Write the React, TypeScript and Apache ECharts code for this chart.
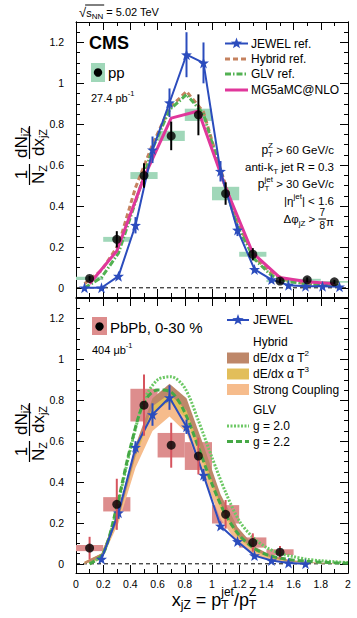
import React, { useEffect, useRef } from 'react';
import * as echarts from 'echarts';

const FONT = '"Liberation Sans", Arial, Helvetica, sans-serif';

// ---------------- axes ----------------
const yTickLabels = [0, 0.2, 0.4, 0.6, 0.8, 1, 1.2];
const yMinorTicks = [0.05, 0.1, 0.15, 0.25, 0.3, 0.35, 0.45, 0.5, 0.55, 0.65, 0.7, 0.75, 0.85, 0.9, 0.95, 1.05, 1.1, 1.15, 1.25];
const Y_MIN = -0.045;
const Y_MAX = 1.3;

// ---------------- top panel: pp ----------------
const ppX = [0.1, 0.3, 0.5, 0.7, 0.9, 1.1, 1.3, 1.5, 1.7, 1.9];
const ppY = [0.046, 0.237, 0.549, 0.743, 0.846, 0.461, 0.164, 0.033, 0.039, 0.029];
const ppStat = [0.012, 0.04, 0.06, 0.07, 0.1, 0.055, 0.03, 0.012, 0.012, 0.01];
const ppSys = [0.008, 0.012, 0.017, 0.025, 0.03, 0.033, 0.012, 0.005, 0.005, 0.004];

const jewelX = [0.0625, 0.1875, 0.3125, 0.4375, 0.5625, 0.6875, 0.8125, 0.9375, 1.0625, 1.1875, 1.3125, 1.4375, 1.5625, 1.6875, 1.8125, 1.9375];
const jewelPP = [0.0, 0.0, 0.057, 0.306, 0.675, 0.905, 1.14, 1.1, 0.57, 0.283, 0.09, 0.04, 0.013, 0.008, 0.008, 0.005];
const jewelPPErr = [0, 0, 0.01, 0.04, 0.065, 0.07, 0.11, 0.1, 0.05, 0.03, 0.01, 0.005, 0, 0, 0, 0];

const hybridRefX = [0.0625, 0.1875, 0.3125, 0.4375, 0.5625, 0.6875, 0.8125, 0.9375, 1.0625, 1.1875, 1.3125, 1.4375, 1.5625, 1.6875, 1.8125, 1.9375];
const hybridRefY = [0.02, 0.085, 0.21, 0.49, 0.7, 0.88, 0.96, 0.86, 0.58, 0.32, 0.15, 0.07, 0.035, 0.02, 0.015, 0.01];
const glvRefY = [0.0, 0.05, 0.17, 0.42, 0.68, 0.87, 0.945, 0.85, 0.57, 0.3, 0.14, 0.06, 0.03, 0.02, 0.015, 0.01];

const mgX = [0.1, 0.3, 0.5, 0.7, 0.9, 1.1, 1.3, 1.5, 1.7, 1.9];
const mgY = [0.02, 0.18, 0.54, 0.83, 0.865, 0.49, 0.17, 0.05, 0.03, 0.02];

// ---------------- bottom panel: PbPb ----------------
const pbX = [0.1, 0.3, 0.5, 0.7, 0.9, 1.1, 1.3, 1.5];
const pbY = [0.077, 0.291, 0.776, 0.58, 0.527, 0.242, 0.104, 0.057];
const pbStat = [0.055, 0.125, 0.15, 0.11, 0.09, 0.07, 0.045, 0.03];
const pbSys = [0.015, 0.035, 0.08, 0.06, 0.068, 0.045, 0.025, 0.014];

const jewelPbX = [0.1875, 0.3125, 0.4375, 0.5625, 0.6875, 0.8125, 0.9375, 1.0625, 1.1875, 1.3125, 1.4375, 1.5625, 1.6875];
const jewelPb = [0.023, 0.25, 0.57, 0.73, 0.813, 0.67, 0.434, 0.185, 0.109, 0.04, 0.016, 0.004, 0.0];
const jewelPbErr = [0.005, 0.03, 0.03, 0.055, 0.06, 0.035, 0.03, 0.015, 0.01, 0.005, 0, 0, 0];

const hybX = [0.0625, 0.1875, 0.3125, 0.4375, 0.5625, 0.6875, 0.8125, 0.9375, 1.0625, 1.1875, 1.3125, 1.4375, 1.5625, 1.6875, 1.8125, 1.9375];
const t2Lo = [0.0, 0.03, 0.22, 0.53, 0.77, 0.83, 0.75, 0.52, 0.29, 0.14, 0.065, 0.03, 0.013, 0.007, 0.004, 0.002];
const t2Hi = [0.01, 0.05, 0.26, 0.58, 0.81, 0.88, 0.81, 0.58, 0.34, 0.18, 0.085, 0.04, 0.02, 0.01, 0.005, 0.003];
const t3Lo = [0.0, 0.03, 0.22, 0.52, 0.74, 0.79, 0.71, 0.49, 0.27, 0.13, 0.06, 0.025, 0.011, 0.005, 0.003, 0.001];
const t3Hi = [0.01, 0.05, 0.26, 0.57, 0.79, 0.85, 0.78, 0.56, 0.32, 0.165, 0.08, 0.038, 0.017, 0.008, 0.004, 0.002];
const scLo = [0.0, 0.02, 0.2, 0.47, 0.65, 0.72, 0.64, 0.43, 0.22, 0.1, 0.04, 0.018, 0.008, 0.004, 0.002, 0.001];
const scHi = [0.01, 0.05, 0.26, 0.56, 0.77, 0.84, 0.76, 0.53, 0.3, 0.15, 0.07, 0.03, 0.014, 0.007, 0.004, 0.002];

const glvX = [0.1, 0.2, 0.3, 0.4, 0.5, 0.6, 0.7, 0.8, 0.9, 1.0, 1.1, 1.2, 1.3, 1.4, 1.5, 1.6, 1.7, 1.8, 1.9, 2.0];
const glv20 = [0.0, 0.05, 0.27, 0.56, 0.8, 0.9, 0.915, 0.86, 0.7, 0.52, 0.35, 0.21, 0.13, 0.08, 0.05, 0.035, 0.022, 0.015, 0.01, 0.006];
const glv22 = [0.0, 0.05, 0.28, 0.57, 0.79, 0.85, 0.84, 0.74, 0.57, 0.39, 0.24, 0.14, 0.08, 0.045, 0.028, 0.018, 0.012, 0.008, 0.005, 0.003];

// ---------------- colours ----------------
const C_JEWEL = '#2b4cbd';
const C_HYB = '#c5825f';
const C_GLV = '#52b152';
const C_MG = '#e0379b';
const C_PPBOX = '#a0d7b9';
const C_PBBOX = '#dd8d8d';
const C_PBERR = '#d6545e';
const C_T2 = '#be8769';
const C_T3 = '#e2be5a';
const C_SC = '#f6bc8c';
const C_G20 = '#6cc864';
const C_G22 = '#45a845';

const STAR = 'path://M0,-10L2.35,-3.24L9.51,-3.09L3.8,1.24L5.88,8.09L0,4L-5.88,8.09L-3.8,1.24L-9.51,-3.09L-2.35,-3.24Z';

// ---------------- text helpers ----------------
let mctx: CanvasRenderingContext2D | null = null;
function tw(t: string, size: number, weight = 'normal'): number {
  if (!mctx) mctx = document.createElement('canvas').getContext('2d');
  mctx!.font = `${weight} ${size}px ${FONT}`;
  return mctx!.measureText(t).width;
}
function txt(t: string, x: number, y: number, size: number, o: any = {}) {
  const align = o.align || 'left';
  return {
    type: 'text', x, y, z: 100, silent: true,
    style: {
      text: t, fill: o.color || '#000', font: `${o.weight || 'normal'} ${size}px ${FONT}`,
      textAlign: align, align, textVerticalAlign: 'middle', verticalAlign: 'middle',
    },
  };
}
function run(segs: any[], x: number, y: number, align = 'left', color = '#000'): any[] {
  const widths = segs.map((sg) => {
    if (sg.gap) return sg.gap;
    if (sg.frac) return Math.max(tw(sg.frac[0], sg.s), tw(sg.frac[1], sg.s)) + 2;
    if (sg.t !== undefined) return tw(sg.t, sg.s, sg.w);
    return Math.max(sg.sup ? tw(sg.sup, sg.s) : 0, sg.sub ? tw(sg.sub, sg.s) : 0);
  });
  const total = widths.reduce((a: number, b: number) => a + b, 0);
  let cx = align === 'left' ? x : align === 'right' ? x - total : x - total / 2;
  const out: any[] = [];
  segs.forEach((sg, i) => {
    const w = widths[i];
    if (sg.frac) {
      out.push(txt(sg.frac[0], cx + w / 2, y + sg.u, sg.s, { align: 'center', color }));
      out.push(txt(sg.frac[1], cx + w / 2, y + sg.d, sg.s, { align: 'center', color }));
      out.push({ type: 'line', z: 100, silent: true, shape: { x1: cx, y1: y + sg.b, x2: cx + w, y2: y + sg.b }, style: { stroke: color, lineWidth: 1 } });
    } else if (sg.t !== undefined) {
      out.push(txt(sg.t, cx, y + (sg.dy || 0), sg.s, { color, weight: sg.w }));
    } else if (!sg.gap) {
      if (sg.sup) out.push(txt(sg.sup, cx, y + sg.u, sg.s, { color }));
      if (sg.sub) out.push(txt(sg.sub, cx, y + sg.d, sg.s, { color }));
    }
    cx += w;
  });
  return out;
}
function starPts(cx: number, cy: number, r: number) {
  const pts: number[][] = [];
  for (let k = 0; k < 10; k++) {
    const a = -Math.PI / 2 + (k * Math.PI) / 5;
    const rr = k % 2 === 0 ? r : r * 0.4;
    pts.push([cx + rr * Math.cos(a), cy + rr * Math.sin(a)]);
  }
  return pts;
}
function yTitle(cx: number, cy: number) {
  const S = 17, s = 11;
  const wN = tw('N', S) + tw('Z', s);
  const wD = Math.max(tw('dN', S) + tw('jZ', s), tw('dx', S) + tw('jZ', s));
  const u1 = -19, u2 = 13;
  const children = [
    ...run([{ t: '1', s: S }], u1, -8.5, 'center'),
    ...run([{ t: 'N', s: S }, { sub: 'Z', s, d: 4 }], u1, 9, 'center'),
    { type: 'line', shape: { x1: u1 - wN / 2 - 1, y1: 0, x2: u1 + wN / 2 + 1, y2: 0 }, style: { stroke: '#000', lineWidth: 1.2 } },
    ...run([{ t: 'dN', s: S }, { sub: 'jZ', s, d: 4 }], u2, -8.5, 'center'),
    ...run([{ t: 'dx', s: S }, { sub: 'jZ', s, d: 4 }], u2, 9, 'center'),
    { type: 'line', shape: { x1: u2 - wD / 2 - 1, y1: 0, x2: u2 + wD / 2 + 1, y2: 0 }, style: { stroke: '#000', lineWidth: 1.2 } },
  ];
  return { type: 'group', x: cx, y: cy, rotation: Math.PI / 2, z: 100, silent: true, children };
}

// ---------------- series helpers ----------------
function errSeries(xs: number[], ys: number[], es: number[], color: string, xi: number, yi: number, width: number, z: number) {
  return {
    type: 'custom', xAxisIndex: xi, yAxisIndex: yi, z, silent: true,
    data: xs.map((x, i) => [x, ys[i], es[i]]),
    renderItem: (_p: any, api: any) => {
      const x = api.value(0), y = api.value(1), e = api.value(2);
      if (!e) return null;
      const a = api.coord([x, y - e]), b = api.coord([x, y + e]);
      return { type: 'line', shape: { x1: a[0], y1: a[1], x2: b[0], y2: b[1] }, style: { stroke: color, lineWidth: width } };
    },
  };
}
function boxSeries(xs: number[], ys: number[], ss: number[], color: string, xi: number, yi: number, z: number) {
  return {
    type: 'custom', xAxisIndex: xi, yAxisIndex: yi, z, silent: true,
    data: xs.map((x, i) => [x, ys[i], ss[i]]),
    renderItem: (_p: any, api: any) => {
      const x = api.value(0), y = api.value(1), s = api.value(2);
      const a = api.coord([x - 0.1, y + s]), b = api.coord([x + 0.1, y - s]);
      return { type: 'rect', shape: { x: a[0], y: a[1], width: b[0] - a[0], height: Math.max(b[1] - a[1], 1.5) }, style: { fill: color } };
    },
  };
}
function bandSeries(xs: number[], lo: number[], hi: number[], color: string, z: number) {
  return {
    type: 'custom', xAxisIndex: 2, yAxisIndex: 4, z, silent: true,
    data: xs.map((x, i) => [x, lo[i], hi[i]]),
    renderItem: (p: any, api: any) => {
      if (p.dataIndex !== 0) return null;
      const pts: number[][] = [];
      for (let i = 0; i < xs.length; i++) pts.push(api.coord([xs[i], hi[i]]));
      for (let i = xs.length - 1; i >= 0; i--) pts.push(api.coord([xs[i], lo[i]]));
      return { type: 'polygon', shape: { points: pts }, style: { fill: color } };
    },
  };
}
function lineSeries(xs: number[], ys: number[], color: string, width: number, type: any, xi: number, yi: number, z: number, extra: any = {}) {
  return {
    type: 'line', xAxisIndex: xi, yAxisIndex: yi, z, silent: true, symbol: 'none',
    data: xs.map((x, i) => [x, ys[i]]),
    lineStyle: { color, width, type }, itemStyle: { color },
    ...extra,
  };
}
function pointSeries(xs: number[], ys: number[], xi: number, yi: number, z: number) {
  return {
    type: 'scatter', xAxisIndex: xi, yAxisIndex: yi, z, silent: true, symbol: 'circle', symbolSize: 9,
    itemStyle: { color: '#000' }, data: xs.map((x, i) => [x, ys[i]]),
  };
}

const fmt = (v: number) => String(Math.round(v * 10) / 10);
const axLine = { show: true, onZero: false, lineStyle: { color: '#000', width: 1 } };
function xAx(g: number, pos: string, labels: boolean) {
  return {
    type: 'value', gridIndex: g, position: pos, min: 0, max: 2, interval: 0.2,
    axisLine: axLine,
    axisTick: { show: true, inside: true, length: 8, lineStyle: { color: '#000', width: 1 } },
    minorTick: { show: true, splitNumber: 2, length: 4, lineStyle: { color: '#000', width: 1 } },
    splitLine: { show: false }, minorSplitLine: { show: false },
    axisLabel: { show: labels, margin: 5, color: '#000', fontSize: 10.5, fontFamily: FONT, formatter: fmt },
  };
}
function yAx(g: number, pos: string, major: boolean, labels: boolean) {
  return {
    type: 'value', gridIndex: g, position: pos, min: Y_MIN, max: Y_MAX,
    axisLine: axLine,
    axisTick: { show: true, inside: true, length: major ? 8 : 4, customValues: major ? yTickLabels : yMinorTicks, lineStyle: { color: '#000', width: 1 } },
    axisLabel: { show: labels, customValues: yTickLabels, margin: 12, color: '#000', fontSize: 10.5, fontFamily: FONT, formatter: fmt },
    splitLine: { show: false },
  };
}

function buildOption() {
  const zero = (xi: number, yi: number) => lineSeries([0, 2], [0, 0], '#000', 1, [4, 3], xi, yi, 1);
  const series: any[] = [
    // top panel
    zero(0, 0),
    boxSeries(ppX, ppY, ppSys, C_PPBOX, 0, 0, 2),
    lineSeries(hybridRefX, hybridRefY, C_HYB, 3, [5, 3], 0, 0, 3),
    lineSeries(hybridRefX, glvRefY, C_GLV, 3, [6, 2, 1.5, 2], 0, 0, 4),
    lineSeries(mgX, mgY, C_MG, 3, 'solid', 0, 0, 5),
    errSeries(jewelX, jewelPP, jewelPPErr, C_JEWEL, 0, 0, 2, 6),
    lineSeries(jewelX, jewelPP, C_JEWEL, 2, 'solid', 0, 0, 7, { symbol: STAR, symbolSize: 11, showSymbol: true }),
    errSeries(ppX, ppY, ppStat, '#000', 0, 0, 2, 8),
    pointSeries(ppX, ppY, 0, 0, 9),
    // bottom panel
    zero(2, 4),
    boxSeries(pbX, pbY, pbSys, C_PBBOX, 2, 4, 2),
    bandSeries(hybX, scLo, scHi, C_SC, 3),
    bandSeries(hybX, t3Lo, t3Hi, C_T3, 4),
    bandSeries(hybX, t2Lo, t2Hi, C_T2, 5),
    lineSeries(glvX, glv20, C_G20, 3, [2, 1.5], 2, 4, 6, { smooth: 0.3 }),
    lineSeries(glvX, glv22, C_G22, 3, [6, 3], 2, 4, 7, { smooth: 0.3 }),
    errSeries(jewelPbX, jewelPb, jewelPbErr, C_JEWEL, 2, 4, 2, 8),
    lineSeries(jewelPbX, jewelPb, C_JEWEL, 2, 'solid', 2, 4, 9, { symbol: STAR, symbolSize: 11, showSymbol: true }),
    errSeries(pbX, pbY, pbStat, C_PBERR, 2, 4, 2, 10),
    pointSeries(pbX, pbY, 2, 4, 11),
  ];

  const g: any[] = [];
  // header sqrt(s_NN)
  {
    const x0 = 79, y = 12;
    g.push(...run([{ t: '√', s: 13 }, { t: 's', s: 11, dy: 1 }, { sub: 'NN', s: 8, d: 4 }, { t: ' = 5.02 TeV', s: 11 }], x0, y));
    const a = x0 + tw('√', 13), b = a + tw('s', 11) + tw('NN', 8);
    g.push({ type: 'line', z: 100, silent: true, shape: { x1: a - 1, y1: 5, x2: b + 1, y2: 5 }, style: { stroke: '#000', lineWidth: 1 } });
  }
  g.push(txt('CMS', 89, 43, 18, { weight: 'bold' }));
  // pp legend
  g.push({ type: 'rect', z: 100, silent: true, shape: { x: 91, y: 63, width: 14, height: 19 }, style: { fill: C_PPBOX } });
  g.push({ type: 'circle', z: 101, silent: true, shape: { cx: 98, cy: 72.5, r: 4.2 }, style: { fill: '#000' } });
  g.push(txt('pp', 108, 72, 15));
  g.push(...run([{ t: '27.4 pb', s: 11 }, { sup: '-1', s: 7.5, u: -4.5 }], 91, 98));
  // top legend
  const lx1 = 225, lx2 = 248, tx = 251;
  const rows = [43.5, 59, 74, 90];
  g.push({ type: 'line', z: 100, silent: true, shape: { x1: lx1, y1: rows[0], x2: lx2, y2: rows[0] }, style: { stroke: C_JEWEL, lineWidth: 2 } });
  g.push({ type: 'polygon', z: 101, silent: true, shape: { points: starPts((lx1 + lx2) / 2, rows[0], 6) }, style: { fill: C_JEWEL } });
  g.push({ type: 'line', z: 100, silent: true, shape: { x1: lx1, y1: rows[1], x2: lx2, y2: rows[1] }, style: { stroke: C_HYB, lineWidth: 3, lineDash: [5, 3] } });
  g.push({ type: 'line', z: 100, silent: true, shape: { x1: lx1, y1: rows[2], x2: lx2, y2: rows[2] }, style: { stroke: C_GLV, lineWidth: 3, lineDash: [6, 2, 1.5, 2] } });
  g.push({ type: 'line', z: 100, silent: true, shape: { x1: lx1, y1: rows[3], x2: lx2, y2: rows[3] }, style: { stroke: C_MG, lineWidth: 3 } });
  g.push(txt('JEWEL ref.', tx, rows[0], 12));
  g.push(txt('Hybrid ref.', tx, rows[1], 12));
  g.push(txt('GLV ref.', tx, rows[2], 12));
  g.push(txt('MG5aMC@NLO', tx, rows[3], 12));
  // selection annotations
  const ax = 334, S = 11.5, s = 8;
  g.push(...run([{ t: 'p', s: 12 }, { sup: 'Z', sub: 'T', s, u: -5, d: 4 }, { t: ' > 60 GeV/c', s: S }], ax, 150, 'right'));
  g.push(...run([{ t: 'anti-k', s: S }, { sub: 'T', s, d: 4 }, { t: ' jet R = 0.3', s: S }], ax, 167, 'right'));
  g.push(...run([{ t: 'p', s: 12 }, { sup: 'jet', sub: 'T', s, u: -5, d: 4 }, { t: ' > 30 GeV/c', s: S }], ax, 184, 'right'));
  g.push(...run([{ t: '|η', s: S }, { sup: 'jet', s, u: -5 }, { t: '| < 1.6', s: S }], ax, 201, 'right'));
  g.push(...run([{ t: 'Δφ', s: S }, { sub: 'jZ', s, d: 4 }, { t: ' > ', s: S }, { frac: ['7', '8'], s: 10, u: -6.5, d: 6.5, b: 0 }, { t: 'π', s: S, dy: 3 }], ax, 219, 'right'));
  // PbPb legend
  g.push({ type: 'rect', z: 100, silent: true, shape: { x: 92, y: 317, width: 15, height: 18 }, style: { fill: C_PBBOX } });
  g.push({ type: 'circle', z: 101, silent: true, shape: { cx: 99.5, cy: 326.5, r: 4.2 }, style: { fill: '#000' } });
  g.push(txt('PbPb, 0-30 %', 110, 327, 15));
  g.push(...run([{ t: '404 μb', s: 11 }, { sup: '-1', s: 7.5, u: -4.5 }], 92, 350));
  // bottom legend
  const bx1 = 227, bx2 = 249, btx = 253;
  g.push({ type: 'line', z: 100, silent: true, shape: { x1: bx1, y1: 320, x2: bx2, y2: 320 }, style: { stroke: C_JEWEL, lineWidth: 2 } });
  g.push({ type: 'polygon', z: 101, silent: true, shape: { points: starPts((bx1 + bx2) / 2, 320, 6) }, style: { fill: C_JEWEL } });
  g.push(txt('JEWEL', btx, 320, 12));
  g.push(txt('Hybrid', btx, 341.5, 12));
  g.push({ type: 'rect', z: 100, silent: true, shape: { x: bx1, y: 352.5, width: 22, height: 11 }, style: { fill: C_T2 } });
  g.push(...run([{ t: 'dE/dx α T', s: 12 }, { sup: '2', s: 8, u: -5 }], btx, 358));
  g.push({ type: 'rect', z: 100, silent: true, shape: { x: bx1, y: 368.5, width: 22, height: 11 }, style: { fill: C_T3 } });
  g.push(...run([{ t: 'dE/dx α T', s: 12 }, { sup: '3', s: 8, u: -5 }], btx, 374));
  g.push({ type: 'rect', z: 100, silent: true, shape: { x: bx1, y: 384, width: 22, height: 11 }, style: { fill: C_SC } });
  g.push(txt('Strong Coupling', btx, 389.5, 12));
  g.push(txt('GLV', btx, 409.5, 12));
  g.push({ type: 'line', z: 100, silent: true, shape: { x1: bx1, y1: 426, x2: bx2, y2: 426 }, style: { stroke: C_G20, lineWidth: 3, lineDash: [2, 1.5] } });
  g.push(txt('g = 2.0', btx, 426, 12));
  g.push({ type: 'line', z: 100, silent: true, shape: { x1: bx1, y1: 441.5, x2: bx2, y2: 441.5 }, style: { stroke: C_G22, lineWidth: 3, lineDash: [6, 3] } });
  g.push(txt('g = 2.2', btx, 441.5, 12));
  // axis titles
  g.push(yTitle(29.5, 155.5));
  g.push(yTitle(29.5, 432.5));
  g.push(...run([{ t: 'x', s: 18 }, { sub: 'jZ', s: 12, d: 5 }, { t: ' = p', s: 18 }, { sup: 'jet', sub: 'T', s: 12, u: -8, d: 5 }, { t: '/p', s: 18 }, { sup: 'Z', sub: 'T', s: 12, u: -8, d: 5 }], 214, 600, 'center'));

  return {
    animation: false,
    backgroundColor: '#fff',
    textStyle: { fontFamily: FONT },
    grid: [
      { left: 76, top: 22, width: 272, height: 275, containLabel: false, outerBoundsMode: 'none' },
      { left: 76, top: 298, width: 272, height: 275, containLabel: false, outerBoundsMode: 'none' },
    ],
    xAxis: [xAx(0, 'bottom', false), xAx(0, 'top', false), xAx(1, 'bottom', true), xAx(1, 'top', false)],
    yAxis: [
      yAx(0, 'left', true, true), yAx(0, 'left', false, false), yAx(0, 'right', true, false), yAx(0, 'right', false, false),
      yAx(1, 'left', true, true), yAx(1, 'left', false, false), yAx(1, 'right', true, false), yAx(1, 'right', false, false),
    ],
    series,
    graphic: { elements: g },
  };
}

export default function App() {
  const ref = useRef<HTMLDivElement>(null);
  useEffect(() => {
    const chart = echarts.init(ref.current!, null, { renderer: 'svg' });
    chart.setOption(buildOption() as any);
    return () => chart.dispose();
  }, []);
  return <div ref={ref} style={{ position: 'absolute', left: 0, top: 0, width: 357, height: 618 }} />;
}
